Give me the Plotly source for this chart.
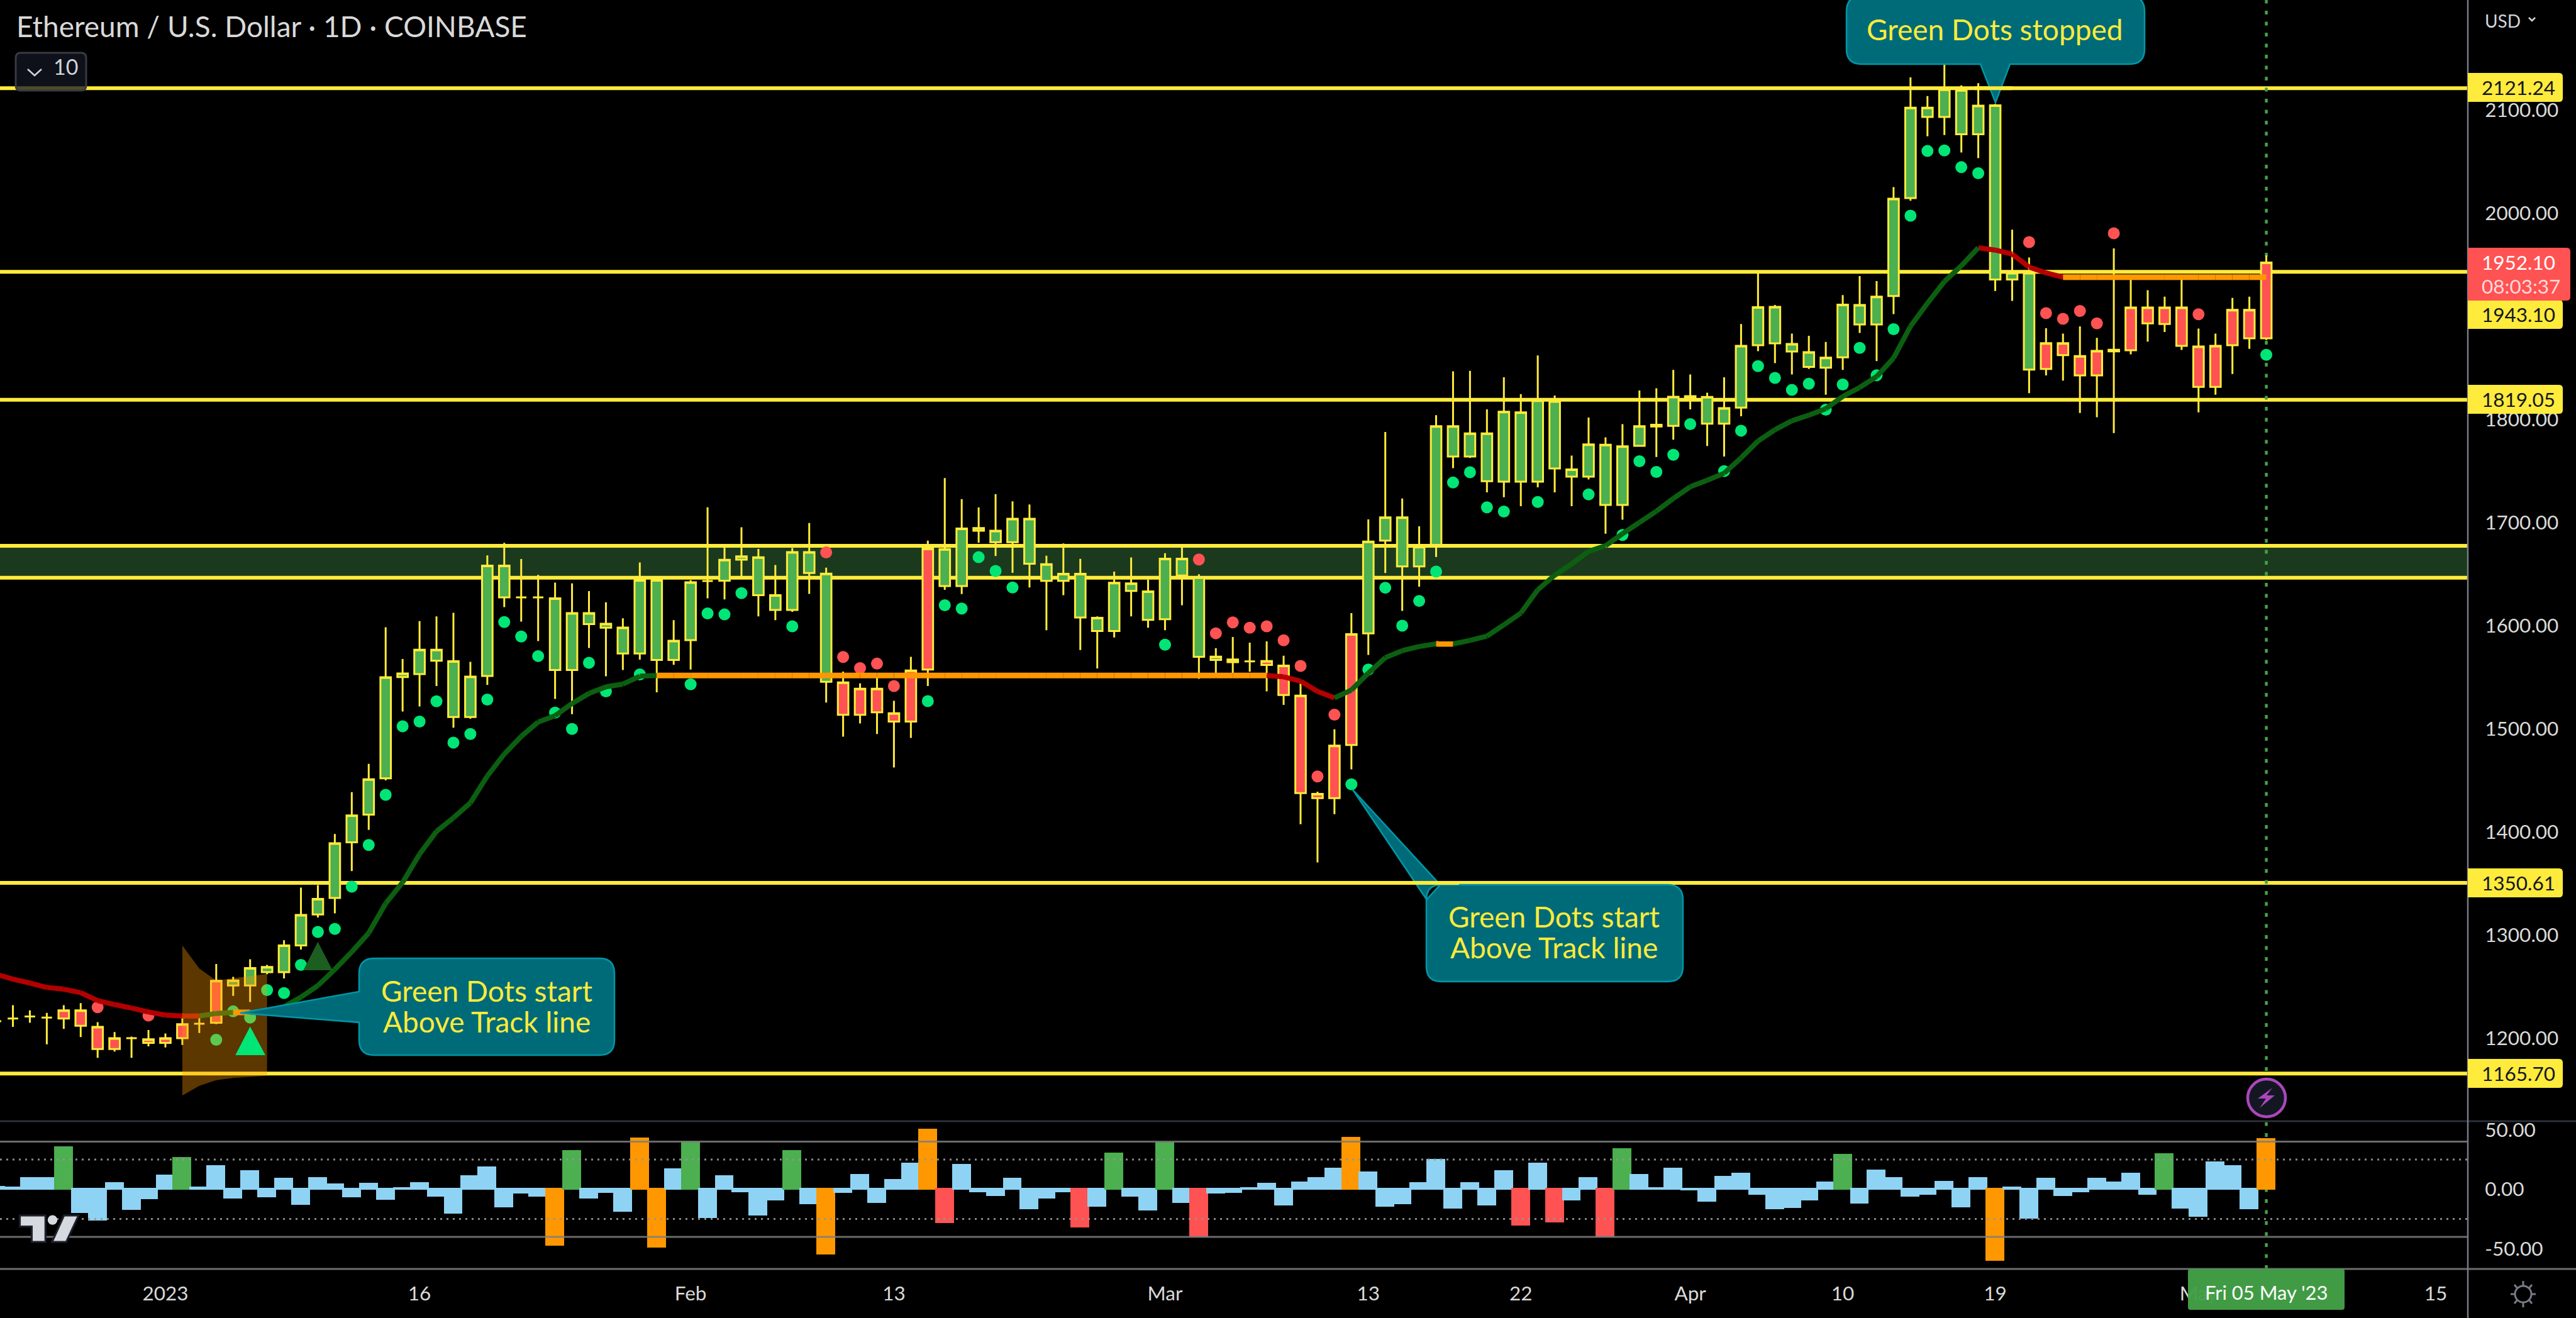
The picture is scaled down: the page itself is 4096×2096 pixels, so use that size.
import pandas as pd
import plotly.graph_objects as go

W, H = 4096, 2096
PLOT_R = 3924
PANE_SPLIT = 1783
PANE_BOTTOM = 2018
FONT = "Lato"

START = "2022-12-22"
FIRST_DAY_OFFSET = -10

# candle data, Dec 22 2022 ... May 5 2023
candle_high = [1220,1232,1227,1224.5,1232,1234,1215.5,1206,1201.5,1208,1204.5,1224,1220,1272,1259.5,1276.5,1271,1295,1346,1348.5,
 1398,1438.5,1466,1598.5,1567.7,1604.4,1609,1612.5,1564.9,1668.2,1680.3,1664.7,1649.2,1641.7,1641,1633.6,1622.7,1607.2,1661.3,1644.2,
 1605.3,1644.2,1714.8,1676.2,1695.5,1674.4,1658.8,1675.3,1699.6,1656.3,1555.5,1544,1550.3,1527.2,1569.8,1682.5,1743.2,1722.7,1714.6,1727.6,
 1720.6,1717.6,1667.8,1679.7,1664.8,1609,1652.5,1666.1,1644.6,1670.2,1676.5,1649.8,1578.2,1589,1583.6,1584.7,1570.9,1546.3,1439,1499.5,
 1612.2,1703.1,1787.8,1723.3,1696.3,1804.1,1846.6,1847.1,1809.8,1840.9,1824.5,1862,1823.2,1764.9,1801.9,1782.6,1795.4,1828,1830.2,1848,
 1843.6,1825.9,1840.9,1892.6,1942.4,1911,1883.3,1881.1,1875.2,1920.6,1939.1,1934.2,2025.3,2131.7,2113.5,2150,2124,2126,2106,1984,
 1957,1888.4,1883.3,1890.3,1879.1,1965.9,1939.3,1925.3,1919.1,1940.2,1888.1,1883.3,1917.8,1919.1,1959]
body_top = [1216.4,1219,1221,1220,1227,1227,1211,1200,1200,1199,1200,1213.5,1214,1255.6,1256,1268,1269,1290,1319.5,1335,
 1389,1416,1451,1550,1553.7,1576.7,1576.7,1565.5,1550.6,1658.2,1658.2,1627.4,1627.4,1626.5,1612.2,1612.2,1601.9,1598.2,1644.2,1644.2,
 1585.4,1642,1643.3,1663.8,1667.2,1666.3,1629.6,1671.3,1671.3,1650.4,1545,1538.8,1538.8,1515.1,1556.5,1674.7,1674.3,1694.2,1694.7,1692,
 1703.7,1703.7,1659.6,1650.3,1650.3,1607.6,1641.6,1641,1633.2,1665,1665,1646.8,1570,1567.3,1565.4,1565.7,1561.3,1532.2,1436.9,1483.7,
 1591.8,1681.6,1705,1705,1676.5,1793.5,1793.5,1786.4,1786.4,1807.4,1806.8,1818.5,1817.7,1751.6,1775.8,1775.5,1773.9,1793.5,1794.8,1822,
 1822.6,1821.8,1810.9,1871.3,1908.9,1909.2,1873.2,1865.3,1859.9,1911.3,1911,1919,2014,2102.3,2102.3,2119.9,2119.3,2104.2,2104.5,1942,
 1942,1874,1874,1861.5,1866.5,1867.6,1908.5,1908.5,1908.5,1908.5,1870.7,1871.3,1906.3,1906.3,1952.1]
body_bottom = [1216.4,1219,1221,1220,1219,1212,1189.5,1189.5,1200,1195.5,1195.5,1200,1214,1215,1251,1251,1264,1264,1290,1320,
 1336,1390,1416.7,1452,1550.2,1553,1566,1511.4,1511.4,1551.2,1627.4,1627.4,1627.4,1557,1557,1601.6,1598,1573,1573,1566.8,
 1566.8,1586,1643.3,1643.6,1664,1629.6,1615.3,1615.3,1651,1545.6,1513.5,1513.5,1516,1507,1507,1557.4,1638.4,1638.4,1692,1681,
 1681,1660.1,1643.5,1643.5,1607.9,1594.8,1594.8,1633.7,1605.7,1606.2,1648.7,1569.8,1566.8,1564.6,1565.4,1561.9,1532.7,1437.7,1432.8,1432.8,
 1484.3,1592.6,1682.4,1657.4,1657.4,1678.3,1764.1,1764.1,1740.1,1739.6,1739.6,1739.6,1752.4,1744.5,1744.5,1717,1717,1774.4,1793.2,1793.8,
 1820.4,1795.9,1795.9,1811.4,1871.9,1873.8,1865.9,1850.9,1850.1,1860.2,1892,1892,1919.7,2014.6,2093.3,2093.3,2076.5,2076.5,1935.7,1935.7,
 1848.3,1848.9,1862.3,1842.7,1842.7,1866,1867.1,1893.1,1892.6,1871.3,1831.5,1831.5,1871.9,1878.6,1878.6]
candle_low = [1213,1211,1215,1194,1209,1201,1181,1187,1181,1192,1191,1193.5,1205,1213.5,1241,1235,1262,1258,1286,1317,
 1321,1362,1402,1450,1516.7,1521.6,1541.5,1501,1509.8,1542.5,1618,1604,1585.1,1529,1514.2,1578.3,1550.9,1557,1567,1535.3,
 1562,1557.4,1626.5,1625.5,1646.7,1609,1605.3,1613.4,1630.8,1525.4,1492.4,1505.2,1494.9,1462.5,1491.1,1541.5,1634.8,1630.7,1680.5,1667.5,
 1651.2,1637,1595.6,1629.6,1576.3,1558.6,1588.5,1609,1598,1595.6,1619.8,1548.5,1550.7,1554,1555.3,1536.3,1523.2,1407.5,1370.5,1417.3,
 1460.6,1571.7,1651.1,1614.4,1637.8,1666.6,1752.7,1762.7,1729.2,1724.6,1715.9,1734.2,1729.2,1715.9,1741.8,1689.2,1702.8,1774.4,1763.6,1780.4,
 1809.8,1774.2,1764.1,1803,1866.2,1854.5,1843.6,1849,1824,1848,1883.9,1856.6,1902.1,2012.1,2074.5,2075.7,2058.9,2053.3,1924.5,1915,
 1825.4,1842.7,1837.7,1806.3,1802.1,1786.7,1863.1,1875.5,1884.7,1867.4,1806.9,1824,1844.1,1868.5,1877]
candle_color = list("RRRRRRRRRRRRRR" + "G" * 36 + "RRRRRR" + "G" * 19 + "RRRRRR" + "G" * 40 + "RRRRRRRRRRRRRR")

# signal dots
green_dot_days = [3,4,5,6,7,8,9,10,11,12,13,14,15,16,17,18,19,20,21,22,23,24,25,26,28,31,32,33,34,37,45,46,47,48,49,50,59,70,71,72,73,74,75,
 76,77,78,79,81,84,86,87,88,89,90,92,93,94,95,96,97,98,99,100,101,102,103,104,105,106,107,124]
green_dot_values = [1198.5,1226,1220,1246.7,1243.7,1271,1303,1306,1347,1387.3,1436,1502.4,1507,1526.7,1486.6,1495,1528.4,1603.5,1589.5,1570.5,1515.7,1499.9,1564,1536.3,1552.8,1543.1,1611.9,1610.9,1631.5,1599.4,1526.8,1619.8,1616.6,1666.4,1653,1637,1581.5,1446.2,1557.5,1636.8,1600,1624,1652.5,
 1738.8,1748.8,1714.8,1710.7,1720,1727.3,1687.9,1759.5,1749.1,1765.7,1795.4,1749.9,1789.1,1851.7,1840.3,1828.6,1834.6,1809.4,1833.8,1869.4,1842.8,1887.5,1997.6,2060.3,2060.8,2044.6,2038.7,1862.6]
red_dot_days = [-4,-1,39,40,41,42,43,61,62,63,64,65,66,67,68,69,110,111,112,113,114,115,120]
red_dot_values = [1230,1222,1671,1569.7,1558.8,1563.2,1541.5,1664.2,1592.6,1603.2,1598,1599.4,1585.8,1561,1453.8,1513.7,1972,1903,1897.6,1905.2,1893.1,1980.5,1902]

# track line
track_values = [1262,1257.3,1253.5,1249.2,1247.5,1244.1,1236.4,1232.6,1229.2,1225.4,1222.4,1221.5,1221.5,1224,1225,1225,1226,1230.5,1239.8,1251,
 1266.7,1283.7,1302,1330.6,1351,1378.4,1400.5,1413.7,1428.2,1454.2,1475.5,1492.6,1506.6,1512.6,1524.5,1534.3,1540.7,1543.3,1551,1551.7,
 1551.7,1551.7,1551.7,1551.7,1551.7,1551.7,1551.7,1551.7,1551.7,1551.7,1551.7,1551.7,1551.7,1551.7,1551.7,1551.7,1551.7,1551.7,1551.7,1551.7,
 1551.7,1551.7,1551.7,1551.7,1551.7,1551.7,1551.7,1551.7,1551.7,1551.7,1551.7,1551.7,1551.7,1551.7,1551.7,1551.7,1550.4,1546.3,1536.3,1530,
 1537.6,1554,1569,1575.8,1579.8,1582.4,1582.3,1585.8,1589.9,1600.8,1612.2,1634.8,1648.9,1659.8,1672.1,1677.5,1689.2,1700.1,1711,1723.3,
 1734.7,1741,1747.8,1762.7,1779,1790,1798.7,1804.1,1810.4,1822.3,1831,1841.5,1859.5,1890.3,1912.7,1933.7,1949,1966.5,1964.2,1960.3,
 1947.7,1942.1,1937.9,1937.9,1937.9,1937.9,1937.9,1937.9,1937.9,1937.9,1937.9,1937.9,1937.9,1937.9,1937.9]
track_color_runs = [("R",12),("G",2),("O",1),("G",24),("O",36),("R",4),("G",6),("O",1),("G",31),("R",5),("O",12)]

# oscillator
osc_values = [2,1,9,9,34.9,-19.2,-25.5,4.8,-16.9,-7.6,11.1,26,1,19.4,-7,15.1,-6,8.5,-12.7,9,
 3.7,-6,4.2,-8.5,0.7,4.8,-5.5,-20,10.6,18.3,-14.8,-2.8,-5.5,-47,31.7,-7,-2.3,-18.3,42.3,-48.4,
 16.4,39.4,-23.4,10.6,-1.8,-21.5,-9,31.7,-12.1,-54,-2.3,11.6,-10.7,7.4,21.5,50,-27.8,20.4,-1.9,-4.9,
 8.5,-16.4,-7,-1.9,-31.3,-14.3,29.8,-5.5,-17.4,38.6,-10.7,-39.3,-2.8,-2.3,0.5,4.2,-13.2,5.3,9,16.9,
 43.1,14.1,-14.3,-12.1,4.8,24.5,-15.8,4.8,-13.2,15.1,-29.8,21.5,-27.1,-9,9,-39.3,33.3,11.6,0.7,16.9,
 -0.5,-10.1,10,12.7,-4.2,-16.4,-15.3,-9,5.3,28.7,-11.6,15.3,9.2,-5.5,-3.9,6,-14.8,9.2,-59.3,1.2,
 -24.1,8.5,-4.9,-1.8,8.5,5.3,12.7,-3.9,29.2,-15.8,-22.5,22.4,19.2,-16.4,41.7]
osc_special_days = {-6:"G",1:"G",23:"O",24:"G",28:"O",29:"O",31:"G",37:"G",39:"O",45:"O",46:"R",54:"R",56:"G",59:"G",61:"R",
 70:"O",80:"R",82:"R",85:"R",86:"G",99:"G",108:"O",118:"G",124:"O"}

price_levels = [2121.24, 1943.10, 1819.05, 1350.61, 1165.70]
zone_levels = [1677.5, 1646.5]
price_ticks = [1200,1300,1400,1500,1600,1700,1800,1900,2000,2100]
osc_ticks = [50, 0, -50]
osc_tick_text = ["50.00", "0.00", "-50.00"]
time_tick_dates = ["2023-01-01","2023-01-16","2023-02-01","2023-02-13","2023-03-01","2023-03-13","2023-03-22","2023-04-01","2023-04-10","2023-04-19","2023-05-01","2023-05-15"]
time_tick_text = ["2023","16","Feb","13","Mar","13","22","Apr","10","19","May","15"]

GREEN, RED, ORANGE, SKY = "#4CAF50", "#FF5252", "#FF9800", "#8FD3F4"
YEL = "#FFEB3B"
dates = pd.date_range(START, periods=len(candle_high), freq="D")
t0 = pd.Timestamp("2023-01-01")
PX_DAY = 26.94
def day(d):
    return t0 + pd.Timedelta(days=d)
def X(p): return p / PLOT_R
def Y(p): return 1 - p / PANE_BOTTOM

fig = go.Figure()

# dots
fig.add_trace(go.Scatter(x=[day(d) for d in green_dot_days], y=green_dot_values, mode="markers",
                         marker=dict(size=19, color="#00E676", line=dict(width=0)), hoverinfo="skip"))
fig.add_trace(go.Scatter(x=[day(d) for d in red_dot_days], y=red_dot_values, mode="markers",
                         marker=dict(size=19, color="#FF5252", line=dict(width=0)), hoverinfo="skip"))

# track line
seg_colors = []
for c, n in track_color_runs:
    seg_colors += [c] * n
for key, col, lw in (("R", "#B30000", 8), ("G", "#0C5F10", 8), ("O", ORANGE, 9)):
    xs, ys = [], []
    for i, c in enumerate(seg_colors):
        if c == key:
            xs += [dates[i], dates[i + 1], None]
            ys += [track_values[i], track_values[i + 1], None]
    fig.add_trace(go.Scatter(x=xs, y=ys, mode="lines", line=dict(color=col, width=lw), hoverinfo="skip", connectgaps=False))

# fan drawing
fan_days = [1,2,3,6,6,4,3,2,1]
fan_values = [1290,1267.5,1256,1262.4,1163.5,1161.4,1159.3,1153.8,1144.4]
fig.add_trace(go.Scatter(x=[day(d) for d in fan_days], y=fan_values, mode="lines", fill="toself",
                         fillcolor="rgba(255,152,0,0.36)", line=dict(width=0), hoverinfo="skip"))

# candles
for key, col in (("G", GREEN), ("R", RED)):
    idx = [i for i, c in enumerate(candle_color) if c == key]
    fig.add_trace(go.Candlestick(
        x=[dates[i] for i in idx],
        open=[body_bottom[i] for i in idx], high=[candle_high[i] for i in idx],
        low=[candle_low[i] for i in idx], close=[body_top[i] for i in idx],
        increasing=dict(fillcolor=col, line=dict(color=YEL, width=3)),
        decreasing=dict(fillcolor=col, line=dict(color=YEL, width=3)),
        whiskerwidth=0, hoverinfo="skip", showlegend=False))

# triangles
for tx, ty, col in (([4.13,5,5.9], [1183.6,1211.3,1183.6], "#00E676"),
                    ([8.14,9,9.86], [1265.8,1293.5,1265.8], "#1B5E20")):
    fig.add_trace(go.Scatter(x=[day(d) for d in tx], y=ty, mode="lines", fill="toself", fillcolor=col,
                             line=dict(width=0), hoverinfo="skip"))

# oscillator
osc_colors = []
for i in range(len(osc_values)):
    k = osc_special_days.get(i + FIRST_DAY_OFFSET)
    osc_colors.append({"G": GREEN, "O": ORANGE, "R": RED, None: SKY}[k])
fig.add_trace(go.Bar(x=dates, y=osc_values, yaxis="y2", width=86400000, marker=dict(color=osc_colors, line=dict(color=osc_colors, width=3)),
                     hoverinfo="skip"))

shapes, ann = [], []
def line_px(x0, y0, x1, y1, color, width, dash=None, layer="above"):
    shapes.append(dict(type="line", xref="paper", yref="paper", x0=X(x0), x1=X(x1), y0=Y(y0), y1=Y(y1),
                       line=dict(color=color, width=width, dash=dash or "solid"), layer=layer))
def path_px(d, fill=None, line=None, lw=0, layer="above"):
    out = []
    for tok in d:
        if isinstance(tok, str):
            out.append(tok)
        else:
            out.append(f"{X(tok[0])},{Y(tok[1])}")
    shapes.append(dict(type="path", xref="paper", yref="paper", path=" ".join(out),
                       fillcolor=fill or "rgba(0,0,0,0)", line=dict(color=line or "rgba(0,0,0,0)", width=lw), layer=layer))
def text_px(x, y, s, size, color, anchor="center", opacity=1):
    ann.append(dict(xref="paper", yref="paper", x=X(x), y=Y(y), text=s, showarrow=False, xanchor=anchor, yanchor="middle",
                    font=dict(family=FONT, size=size, color=color), opacity=opacity, borderpad=0))
def round_path(x0, y0, x1, y1, r, ptr=None):
    ptr = ptr or {}
    p = ["M", (x0 + r, y0)]
    p += ["L", (x1 - r, y0), "Q", (x1, y0), (x1, y0 + r), "L", (x1, y1 - r), "Q", (x1, y1), (x1 - r, y1)]
    for q in ptr.get("bottom", []): p += ["L", q]
    p += ["L", (x0 + r, y1), "Q", (x0, y1), (x0, y1 - r)]
    for q in ptr.get("left", []): p += ["L", q]
    p += ["L", (x0, y0 + r), "Q", (x0, y0), (x0 + r, y0), "Z"]
    return p

# zone + levels + cursor (below traces)
shapes.append(dict(type="rect", xref="paper", yref="y", x0=0, x1=1, y0=zone_levels[1], y1=zone_levels[0],
                   fillcolor="#1B3A1D", line=dict(width=0), layer="below"))
for lv in price_levels + zone_levels:
    shapes.append(dict(type="line", xref="paper", yref="y", x0=0, x1=1, y0=lv, y1=lv,
                       line=dict(color=YEL, width=6), layer="below"))
shapes.append(dict(type="line", xref="x", yref="paper", x0=dates[-1], x1=dates[-1], y0=0, y1=1,
                   line=dict(color="#43A047", width=4.5, dash="6px,11.5px"), layer="below"))

# oscillator guides
for v, dash, col, lw in ((40, None, "rgba(125,125,125,0.85)", 3), (-40, None, "rgba(125,125,125,0.85)", 3),
                         (25, "3px,7px", "rgba(150,150,150,0.9)", 3), (-25, "3px,7px", "rgba(150,150,150,0.9)", 3)):
    shapes.append(dict(type="line", xref="paper", yref="y2", x0=0, x1=1, y0=v, y1=v,
                       line=dict(color=col, width=lw, dash=dash or "solid"), layer="above"))

# frame lines
line_px(0, PANE_SPLIT, W, PANE_SPLIT, "#2A2E39", 3)
line_px(0, PANE_BOTTOM, W, PANE_BOTTOM, "#6E6E6E", 3)
line_px(PLOT_R, 0, PLOT_R, H, "#787B86", 2.5)

# callouts
TEAL, TEALB = "#006B78", "#0097A7"
CALL = 46
path_px(round_path(571, 1524, 977, 1678, 24, {"left": [(571, 1626), (382, 1611), (571, 1577)]}), TEAL, TEALB, 2.5)
text_px(774, 1575, "Green Dots start", CALL, YEL)
text_px(774, 1624, "Above Track line", CALL, YEL)
path_px(round_path(2268, 1407, 2676, 1561, 24, {"left": [(2268, 1430), (2151, 1256), (2290, 1407)]}), TEAL, TEALB, 2.5)
text_px(2471, 1457, "Green Dots start", CALL, YEL)
text_px(2471, 1506, "Above Track line", CALL, YEL)
path_px(round_path(2936, -6, 3410, 102, 24, {"bottom": [(3196, 102), (3173, 163), (3149, 102)]}), TEAL, TEALB, 2.5)
text_px(3172, 47, "Green Dots stopped", CALL, YEL)
shapes.append(dict(type="line", xref="paper", yref="y", x0=X(2240), x1=X(2320), y0=1350.61, y1=1350.61, line=dict(color=YEL, width=6), layer="above"))
shapes.append(dict(type="line", xref="paper", yref="y", x0=X(3140), x1=X(3200), y0=2121.24, y1=2121.24, line=dict(color=YEL, width=6), layer="above"))

# price labels
def price_label(cy, s):
    path_px(["M", (PLOT_R, cy - 23), "L", (4069, cy - 23), "Q", (4075, cy - 23), (4075, cy - 17), "L", (4075, cy + 17), "Q", (4075, cy + 23), (4069, cy + 23), "L", (PLOT_R, cy + 23), "Z"], YEL)
    text_px(3945, cy, s, 31.5, "#131722", "left")
for cy, s in ((139, "2121.24"), (500, "1943.10"), (635, "1819.05"), (1404, "1350.61"), (1707, "1165.70")):
    price_label(cy, s)
path_px(["M", (PLOT_R, 394), "L", (4081, 394), "Q", (4087, 394), (4087, 400), "L", (4087, 472), "Q", (4087, 478), (4081, 478), "L", (PLOT_R, 478), "Z"], "#FF5252")
text_px(3945, 417, "1952.10", 31.5, "#FFFFFF", "left")
text_px(3945, 455, "08:03:37", 31.5, "#FFD9D9", "left")

# title and collapsed legend
text_px(25, 42, "Ethereum / U.S. Dollar · 1D · COINBASE", 46, "#D9D9D9", "left")
path_px(round_path(25, 84, 137, 144, 8), "rgba(19,23,34,0.75)", "#363A45", 3)
path_px(["M", (44, 110), "L", (55, 120), "L", (66, 110)], None, "#D1D4DC", 2.5)
text_px(104, 106, "10", 34, "#D1D4DC")
text_px(3979, 33, "USD", 28, "#D1D4DC")
path_px(["M", (4021, 28), "L", (4026, 33), "L", (4031, 28)], None, "#D1D4DC", 2.5)

# flash icon
shapes.append(dict(type="circle", xref="paper", yref="paper", x0=X(3574), x1=X(3634), y0=Y(1776), y1=Y(1716),
                   fillcolor="#131722", line=dict(color="#AB47BC", width=4.5), layer="above"))
path_px(["M", (3613, 1730), "L", (3590, 1747), "L", (3603, 1747), "L", (3593, 1762), "L", (3617, 1742), "L", (3604, 1742), "Z"], "#AB47BC")

# cursor time label
path_px(round_path(3479, 2018, 3728, 2083, 4), "rgba(67,160,71,0.97)")
text_px(3604, 2055, "Fri 05 May '23", 31, "#FFFFFF")

# gear
shapes.append(dict(type="circle", xref="paper", yref="paper", x0=X(3999), x1=X(4025), y0=Y(2071), y1=Y(2045),
                   fillcolor="rgba(0,0,0,0)", line=dict(color="#787B86", width=3), layer="above"))
for a, b, c, e in ((4012, 2037, 4012, 2045), (4012, 2071, 4012, 2079), (3992, 2058, 3999, 2058), (4025, 2058, 4032, 2058),
                   (3998, 2043, 4003, 2049), (4021, 2067, 4026, 2073), (4026, 2043, 4021, 2049), (4003, 2067, 3998, 2073)):
    line_px(a, b, c, e, "#787B86", 3)

# watermark
def fx(z): return z / 1.4255
def fy(z): return 1000 + z / 1.4307
logo_line = "#1E222D"
path_px(["M", (fx(45), fy(1335)), "L", (fx(103), fy(1335)), "L", (fx(103), fy(1395)), "L", (fx(72), fy(1395)), "L", (fx(72), fy(1360)), "L", (fx(45), fy(1360)), "Z"], "#D6D9E0", logo_line, 3)
path_px(["M", (fx(145), fy(1335)), "L", (fx(178), fy(1335)), "L", (fx(150), fy(1395)), "L", (fx(118), fy(1395)), "Z"], "#D6D9E0", logo_line, 3)
shapes.append(dict(type="circle", xref="paper", yref="paper", x0=X(fx(108)), x1=X(fx(130)), y0=Y(fy(1356)), y1=Y(fy(1334)),
                   fillcolor="#D6D9E0", line=dict(width=0), layer="above"))

price_top = 2000 + 339 / 1.64
price_bot = 2000 - (PANE_SPLIT - 339) / 1.64
osc_top = (1891.3 - PANE_SPLIT) / 1.893
osc_bot = (1891.3 - PANE_BOTTOM) / 1.893

axis_font = dict(family=FONT, size=31.5, color="#D9D9D9")
split = 1 - PANE_SPLIT / PANE_BOTTOM
fig.update_layout(
    width=W, height=H, autosize=False,
    margin=dict(l=0, r=W - PLOT_R, t=0, b=H - PANE_BOTTOM, pad=0, autoexpand=False),
    paper_bgcolor="#000000", plot_bgcolor="#000000", showlegend=False, barmode="overlay", bargap=0,
    boxgap=0.38, boxgroupgap=0, boxmode="overlay",
    xaxis=dict(domain=[0, 1], anchor="y2", type="date", range=[day(-263 / PX_DAY), day((PLOT_R - 263) / PX_DAY)],
               rangeslider=dict(visible=False), showgrid=False, zeroline=False, showline=False,
               tickmode="array", tickvals=time_tick_dates, ticktext=time_tick_text, tickfont=axis_font,
               ticks="outside", ticklen=11, tickcolor="rgba(0,0,0,0)"),
    yaxis=dict(domain=[split, 1], anchor="x", side="right", range=[price_bot, price_top], showgrid=False, zeroline=False,
               tickmode="array", tickvals=price_ticks, ticktext=[f"{v:.2f}" for v in price_ticks], tickfont=axis_font,
               ticks="outside", ticklen=20, tickcolor="rgba(0,0,0,0)", showline=False),
    yaxis2=dict(domain=[0, split], anchor="x", side="right", range=[osc_bot, osc_top], showgrid=False, zeroline=False,
                tickmode="array", tickvals=osc_ticks, ticktext=osc_tick_text, tickfont=axis_font,
                ticks="outside", ticklen=20, tickcolor="rgba(0,0,0,0)", showline=False),
    shapes=shapes, annotations=ann, hovermode=False,
)
fig.write_html("out.html", config=dict(displayModeBar=False),
               post_script="document.body.style.margin='0';document.body.style.background='#000';"
                           "var g=document.querySelector('.plotly-graph-div');g.style.position='fixed';g.style.top='0';g.style.left='0';")
